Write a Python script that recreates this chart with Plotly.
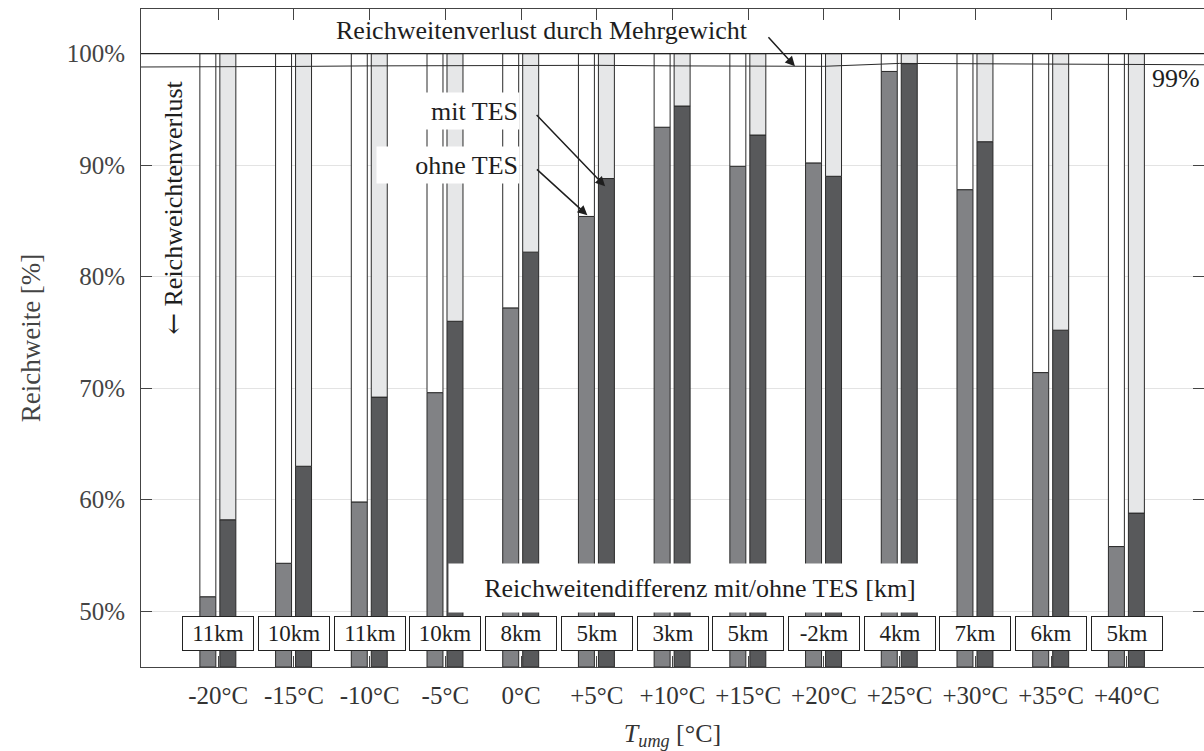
import plotly.graph_objects as go

# ---------------- data ----------------
categories = ["-20°C", "-15°C", "-10°C", "-5°C", "0°C", "+5°C", "+10°C",
              "+15°C", "+20°C", "+25°C", "+30°C", "+35°C", "+40°C"]
reichweite_ohne_tes = [51.3, 54.3, 59.8, 69.6, 77.2, 85.4, 93.4, 89.9, 90.2, 98.4, 87.8, 71.4, 55.8]
reichweite_mit_tes = [58.2, 63.0, 69.2, 76.0, 82.2, 88.8, 95.3, 92.7, 89.0, 99.1, 92.1, 75.2, 58.8]
differenz_km = [11, 10, 11, 10, 8, 5, 3, 5, -2, 4, 7, 6, 5]
mehrgewicht_linie = [98.8, 98.85, 98.9, 98.92, 98.95, 98.95, 98.9, 98.88, 98.86,
                     99.12, 99.08, 99.03, 99.0]
y_ticks = [50, 60, 70, 80, 90, 100]

# ---------------- style ----------------
FONT = "Liberation Serif"
TXT = "#1e1e1e"
AX = "#444444"
Y_MIN, Y_MAX, Y_FULL = 45, 104, 100
X_RANGE = [-1.02, len(categories) - 1 + 1.02]
BAR_W = 0.211
OFF_OHNE = -0.137 - BAR_W / 2
OFF_MIT = 0.127 - BAR_W / 2
OUTLINE = dict(color="#2a2a2a", width=1)

idx = list(range(len(categories)))

fig = go.Figure()

def add_stack(values, low_color, high_color, offset, name):
    fig.add_trace(go.Bar(
        x=idx, y=[v - Y_MIN for v in values], base=[Y_MIN] * len(values),
        width=BAR_W, offset=offset, marker=dict(color=low_color, line=OUTLINE),
        name=name, showlegend=False, hoverinfo="skip"))
    fig.add_trace(go.Bar(
        x=idx, y=[Y_FULL - v for v in values], base=values,
        width=BAR_W, offset=offset, marker=dict(color=high_color, line=OUTLINE),
        name=name + " Verlust", showlegend=False, hoverinfo="skip"))

add_stack(reichweite_ohne_tes, "#818285", "#ffffff", OFF_OHNE, "ohne TES")
add_stack(reichweite_mit_tes, "#58595b", "#e6e7e8", OFF_MIT, "mit TES")

# Reichweitenverlust durch Mehrgewicht (line around 99 %)
fig.add_trace(go.Scatter(
    x=[X_RANGE[0]] + idx + [X_RANGE[1]],
    y=[mehrgewicht_linie[0]] + mehrgewicht_linie + [mehrgewicht_linie[-1]],
    mode="lines", line=dict(color="#2a2a2a", width=1), showlegend=False,
    hoverinfo="skip"))

annotations = []

# km boxes
for i, d in enumerate(differenz_km):
    annotations.append(dict(
        x=i, y=48.0, xref="x", yref="y", text=f"{d}km", showarrow=False,
        font=dict(family=FONT, size=23, color=TXT), bgcolor="white",
        bordercolor="#222222", borderwidth=1, borderpad=1, width=68, height=31))

# label for km boxes
annotations.append(dict(
    x=6.36, y=52.05, xref="x", yref="y",
    text="Reichweitendifferenz mit/ohne TES [km]", showarrow=False,
    font=dict(family=FONT, size=26, color=TXT), bgcolor="white",
    width=500, height=46))

# legend-like labels
annotations.append(dict(
    x=3.32, y=94.88, xref="x", yref="y", text="mit TES", showarrow=False,
    font=dict(family=FONT, size=26, color=TXT), bgcolor="white",
    width=96, height=34, align="right"))
annotations.append(dict(
    x=3.03, y=90.0, xref="x", yref="y", text="ohne TES", showarrow=False,
    font=dict(family=FONT, size=26, color=TXT), bgcolor="white",
    width=140, height=34, align="right"))

# arrows
arrow_style = dict(showarrow=True, arrowhead=2, arrowsize=1.3, arrowwidth=1.5,
                   arrowcolor="#1e1e1e", text=" ", xref="x", yref="y")
annotations.append(dict(x=5.11, y=88.1, ax=-73, ay=-76, **arrow_style))
annotations.append(dict(x=4.876, y=85.5, ax=-55, ay=-50, **arrow_style))
annotations.append(dict(x=7.617, y=98.86, ax=-31, ay=-34, **arrow_style))

# top label
annotations.append(dict(
    x=4.27, y=102.1, xref="x", yref="y",
    text="Reichweitenverlust durch Mehrgewicht", showarrow=False,
    font=dict(family=FONT, size=26, color=TXT)))

# 99 %
annotations.append(dict(
    x=1, y=97.8, xref="paper", yref="y", xanchor="right", xshift=-2,
    text="99%", showarrow=False, font=dict(family=FONT, size=26, color=TXT)))

# rotated label
annotations.append(dict(
    x=-0.607, y=86.2, xref="x", yref="y",
    text="<span style=\"font-family:'DejaVu Serif'\">\u2190</span> Reichweichtenverlust",
    textangle=-90, showarrow=False, font=dict(family=FONT, size=26, color=TXT)))

fig.update_layout(
    width=1204, height=751,
    margin=dict(l=141, r=0, t=9, b=84),
    paper_bgcolor="white", plot_bgcolor="white",
    barmode="overlay",
    font=dict(family=FONT, size=25, color=AX),
    annotations=annotations,
    shapes=[dict(type="line", xref="paper", yref="y", x0=0, x1=1,
                 y0=Y_FULL, y1=Y_FULL, line=dict(color="#222222", width=1.3),
                 layer="above")],
)

fig.update_xaxes(
    range=X_RANGE, tickmode="array", tickvals=idx, ticktext=categories,
    ticks="inside", ticklen=11, tickcolor=AX, showline=True, linecolor=AX,
    linewidth=1, mirror="ticks", showgrid=False, zeroline=False,
    tickfont=dict(family=FONT, size=25, color="#333333"),
    ticklabelstandoff=6,
    title=dict(text="<i>T<sub>umg</sub></i> [°C]",
               font=dict(family=FONT, size=26, color="#333333"), standoff=16),
)
fig.update_yaxes(
    range=[Y_MIN, Y_MAX], tickmode="array", tickvals=y_ticks,
    ticktext=[f"{v}%" for v in y_ticks],
    ticks="inside", ticklen=11, tickcolor=AX, showline=True, linecolor=AX,
    linewidth=1, mirror="ticks", showgrid=True, gridcolor="#e3e3e3",
    gridwidth=1, zeroline=False,
    tickfont=dict(family=FONT, size=25, color="#444444"),
    ticklabelstandoff=10,
    title=dict(text="Reichweite [%]", font=dict(family=FONT, size=27, color="#444444"),
               standoff=18),
)

fig.write_html("out.html", config={"displayModeBar": False},
               post_script="document.body.style.margin='0';")
